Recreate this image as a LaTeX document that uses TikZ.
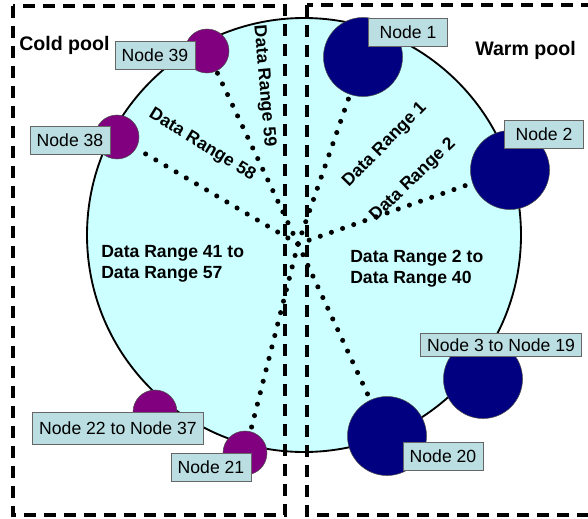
\documentclass[tikz,border=0pt]{standalone}
\usepackage{fontspec}
\setmainfont{Liberation Sans}
\usepackage{tikz}
\usetikzlibrary{shapes.geometric, positioning}
\definecolor{ringfill}{RGB}{204,255,255}
\definecolor{warmblue}{RGB}{0,0,128}
\definecolor{coldpurple}{RGB}{128,0,128}
\definecolor{tagfill}{RGB}{186,222,226}
\tikzstyle{ring} = [circle, draw=black, line width=1.4pt, fill=ringfill, minimum size=325.5pt, inner sep=0pt]
\tikzstyle{warmnode} = [circle, draw=black!70, fill=warmblue, minimum size=59.25pt, inner sep=0pt]
\tikzstyle{coldnode} = [circle, draw=black!70, fill=coldpurple, minimum size=33pt, inner sep=0pt]
\tikzstyle{tag} = [rectangle, draw=black!60, fill=tagfill, minimum width=59.25pt, minimum height=21pt, inner xsep=5pt, inner ysep=0pt, font=\fontsize{13.2pt}{15pt}\selectfont]
\tikzstyle{dotline} = [line width=3.8pt, line cap=round, dash pattern=on 0pt off 8.85pt]
\tikzstyle{rangetext} = [font=\bfseries\fontsize{13.2pt}{15.75pt}\selectfont, inner sep=0pt, align=left]
\tikzstyle{pool} = [dash pattern=on 9pt off 6pt, line width=2.5pt]

\begin{document}
\begin{tikzpicture}[x=0.75pt, y=-0.75pt]
    \clip (0,0) rectangle (588,518);
    \node (ring) [ring] at (304,235) {};
    \coordinate (hub) at (298,244);

    \node (n1) [warmnode] at (363,57) {};
    \node (n2) [warmnode] at (510,170) {};
    \node (n3) [warmnode] at (483,379) {};
    \node (n20) [warmnode] at (387,436) {};
    \node (n21) [coldnode] at (245,453) {};
    \node (n22) [coldnode] at (155,412) {};
    \node (n38) [coldnode] at (117,137) {};
    \node (n39) [coldnode] at (207,51) {};

    \draw [dotline] (hub) -- (n1);
    \draw [dotline] (hub) -- (n2);
    \draw [dotline] (hub) -- (n20);
    \draw [dotline] (hub) -- (n21);
    \draw [dotline] (hub) -- (n38);
    \draw [dotline] (hub) -- (n39);

    \node (t1) [tag] at (408,32) {Node 1};
    \node (t2) [tag] at (544,134) {Node 2};
    \node (t3) [tag, minimum height=17pt] at (501,345) {Node 3 to Node 19};
    \node (t20) [tag] at (443,456) {Node 20};
    \node (t21) [tag] at (211,467) {Node 21};
    \node (t22) [tag, minimum height=24pt] at (118,428) {Node 22 to Node 37};
    \node (t38) [tag] at (70,140) {Node 38};
    \node (t39) [tag] at (155,55) {Node 39};

    \node (r59) [rangetext, rotate=-85] at (264,86) {Data Range 59};
    \node (r58) [rangetext, rotate=-31.5] at (202,145) {Data Range 58};
    \node (r1) [rangetext, rotate=45.5] at (385,145) {Data Range 1};
    \node (r2) [rangetext, rotate=44] at (413,180) {Data Range 2};
    \node (rcold) [rangetext, anchor=west] at (101,264) {Data Range 41 to\\Data Range 57};
    \node (rwarm) [rangetext, anchor=west] at (350,269) {Data Range 2 to\\Data Range 40};

    \node (cold) [rangetext, anchor=west, font=\bfseries\fontsize{14.7pt}{17pt}\selectfont] at (19,45) {Cold pool};
    \node (warm) [rangetext, anchor=west, font=\bfseries\fontsize{14.7pt}{17pt}\selectfont] at (475,50) {Warm pool};

    \draw [pool] (13,6) rectangle (285,515);
    \draw [pool] (307,5) rectangle (600,515);
\end{tikzpicture}
\end{document}
